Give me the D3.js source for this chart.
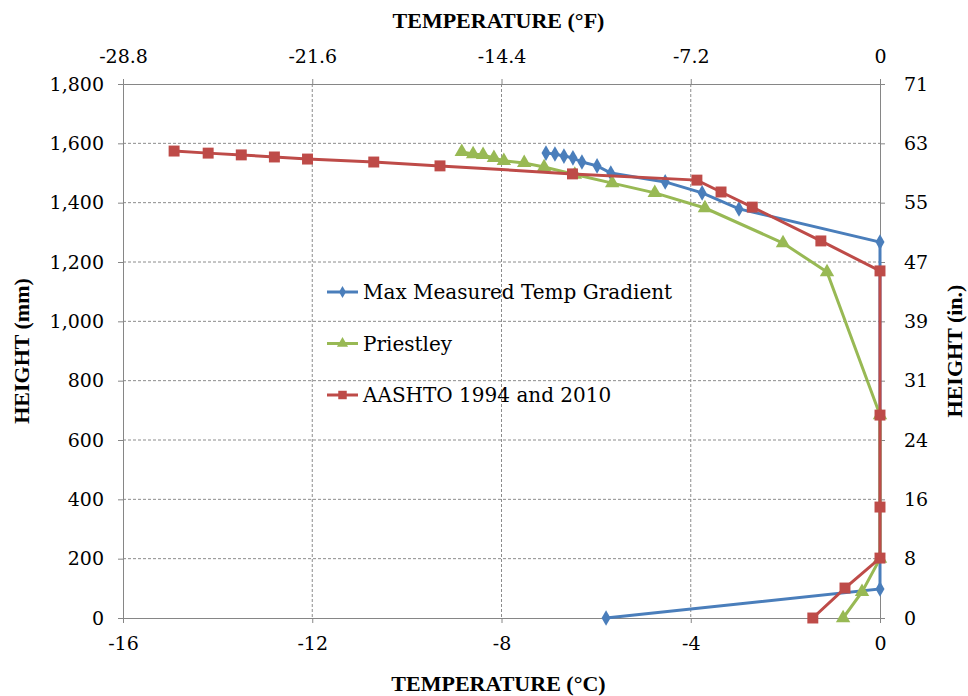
<!DOCTYPE html>
<html>
<head>
<meta charset="utf-8">
<script src="https://cdn.jsdelivr.net/npm/d3@7"></script>
<style>
  body { margin: 0; background: #fff; }
  text { font-family: "DejaVu Serif", serif; fill: #000; }
  .title { font-family: "Liberation Serif", serif; font-weight: bold; font-size: 22px; }
</style>
</head>
<body>
<svg width="968" height="696"></svg>
<script>
// temperature (°C) and height (mm)
var measuredT = [-7.06, -6.87, -6.68, -6.49, -6.30, -5.98, -5.69, -4.54, -3.76, -2.98, 0, 0, -5.79];
var measuredH = [1567, 1564, 1557, 1551, 1537, 1524, 1500, 1470, 1433, 1379, 1267, 98, 0];

var priestleyT = [-8.84, -8.60, -8.39, -8.16, -7.95, -7.52, -7.10, -6.45, -5.66, -4.76, -3.70, -2.05, -1.12, 0, 0, -0.38, -0.78];
var priestleyH = [1571, 1564, 1561, 1551, 1541, 1534, 1520, 1495, 1466, 1433, 1382, 1264, 1166, 684, 200, 88, 0];

var aashtoT = [-14.92, -14.2, -13.5, -12.8, -12.1, -10.7, -9.3, -6.5, -3.87, -3.36, -2.7, -1.25, 0, 0, 0, 0, -0.74, -1.42];
var aashtoH = [1574, 1567, 1561, 1554, 1547, 1537, 1524, 1497, 1476, 1436, 1385, 1271, 1170, 684, 374, 202, 101, 0];

var seriesNames = ["Max Measured Temp Gradient", "Priestley", "AASHTO 1994 and 2010"];

var xTicksC = [-16, -12, -8, -4, 0];
var xTicksF = ["-28.8", "-21.6", "-14.4", "-7.2", "0"];
var yTicksMm = [0, 200, 400, 600, 800, 1000, 1200, 1400, 1600, 1800];
var yTicksIn = ["0", "8", "16", "24", "31", "39", "47", "55", "63", "71"];

var colors = ["#4A7EBB", "#98B954", "#BE4B48"];

var svg = d3.select("svg");
var margin = {top: 84, right: 88, bottom: 78, left: 123};
var width = 968 - margin.left - margin.right;
var height = 696 - margin.top - margin.bottom;

var g = svg.append("g")
  .attr("transform", "translate(" + margin.left + "," + margin.top + ")");

var x = d3.scaleLinear().domain([-16, 0]).range([0, width]);
var y = d3.scaleLinear().domain([0, 1800]).range([height, 0]);

// grid lines
g.selectAll(".hgrid")
  .data(yTicksMm.slice(1, -1))
  .enter().append("line")
  .attr("x1", 0).attr("x2", width)
  .attr("y1", function(d) { return y(d); })
  .attr("y2", function(d) { return y(d); })
  .attr("stroke", "#8c8c8c").attr("stroke-dasharray", "3,2");

g.selectAll(".vgrid")
  .data(xTicksC.slice(1, -1))
  .enter().append("line")
  .attr("y1", 0).attr("y2", height)
  .attr("x1", function(d) { return x(d); })
  .attr("x2", function(d) { return x(d); })
  .attr("stroke", "#8c8c8c").attr("stroke-dasharray", "3,2");

// axes
var axisColor = "#868686";
function styleAxis(sel) {
  sel.select(".domain").attr("stroke", axisColor);
  sel.selectAll(".tick line").attr("stroke", axisColor);
  sel.selectAll(".tick text").attr("font-size", 19).attr("font-family", "'DejaVu Serif', serif");
}
// hyphen instead of the unicode minus
var hyph = function(d) { return String(d); };

var bottomAxis = g.append("g")
  .attr("transform", "translate(0," + height + ")")
  .call(d3.axisBottom(x).tickValues(xTicksC).tickSizeOuter(0).tickSize(5).tickPadding(14).tickFormat(hyph));
styleAxis(bottomAxis);

var topAxis = g.append("g")
  .call(d3.axisTop(x).tickValues(xTicksC).tickSizeOuter(0).tickSize(5).tickPadding(16)
    .tickFormat(function(d, i) { return xTicksF[i]; }));
styleAxis(topAxis);

var leftAxis = g.append("g")
  .call(d3.axisLeft(y).tickValues(yTicksMm).tickSizeOuter(0).tickSize(5).tickPadding(14)
    .tickFormat(d3.format(",")));
styleAxis(leftAxis);

var rightAxis = g.append("g")
  .attr("transform", "translate(" + width + ",0)")
  .call(d3.axisRight(y).tickValues(yTicksMm).tickSizeOuter(0).tickSize(5).tickPadding(19)
    .tickFormat(function(d, i) { return yTicksIn[i]; }));
styleAxis(rightAxis);

// series
var series = [
  {name: seriesNames[0], t: measuredT, h: measuredH, symbol: d3.symbolDiamond, size: 70},
  {name: seriesNames[1], t: priestleyT, h: priestleyH, symbol: d3.symbolTriangle, size: 90},
  {name: seriesNames[2], t: aashtoT, h: aashtoH, symbol: d3.symbolSquare, size: 120}
];

var line = d3.line()
  .x(function(d) { return x(d[0]); })
  .y(function(d) { return y(d[1]); });

series.forEach(function(s, k) {
  var pts = s.t.map(function(v, i) { return [v, s.h[i]]; });
  g.append("path")
    .datum(pts)
    .attr("d", line)
    .attr("fill", "none")
    .attr("stroke", colors[k])
    .attr("stroke-width", 3);
  g.selectAll(".pt" + k)
    .data(pts)
    .enter().append("path")
    .attr("d", d3.symbol().type(s.symbol).size(s.size))
    .attr("transform", function(d) { return "translate(" + x(d[0]) + "," + y(d[1]) + ")"; })
    .attr("fill", colors[k]);
});

// legend
var legend = svg.append("g").attr("transform", "translate(327,292)");
series.forEach(function(s, k) {
  var row = legend.append("g").attr("transform", "translate(0," + (k * 51.5) + ")");
  row.append("line").attr("x1", 0).attr("x2", 31)
    .attr("stroke", colors[k]).attr("stroke-width", 3);
  row.append("path")
    .attr("d", d3.symbol().type(s.symbol).size(s.size * 0.6))
    .attr("transform", "translate(15.5,0)")
    .attr("fill", colors[k]);
  row.append("text").attr("x", 36).attr("y", 7)
    .attr("font-size", 20)
    .text(s.name);
});

// axis titles
svg.append("text").attr("class", "title")
  .attr("x", margin.left + width / 2 - 3).attr("y", 28)
  .attr("text-anchor", "middle")
  .text("TEMPERATURE (°F)");

svg.append("text").attr("class", "title")
  .attr("x", margin.left + width / 2 - 3).attr("y", 691)
  .attr("text-anchor", "middle")
  .text("TEMPERATURE (°C)");

svg.append("text").attr("class", "title")
  .attr("transform", "translate(29," + (margin.top + height / 2) + ") rotate(-90)")
  .attr("text-anchor", "middle")
  .text("HEIGHT (mm)");

svg.append("text").attr("class", "title")
  .attr("transform", "translate(962," + (margin.top + height / 2) + ") rotate(-90)")
  .attr("text-anchor", "middle")
  .text("HEIGHT (in.)");
</script>
</body>
</html>
